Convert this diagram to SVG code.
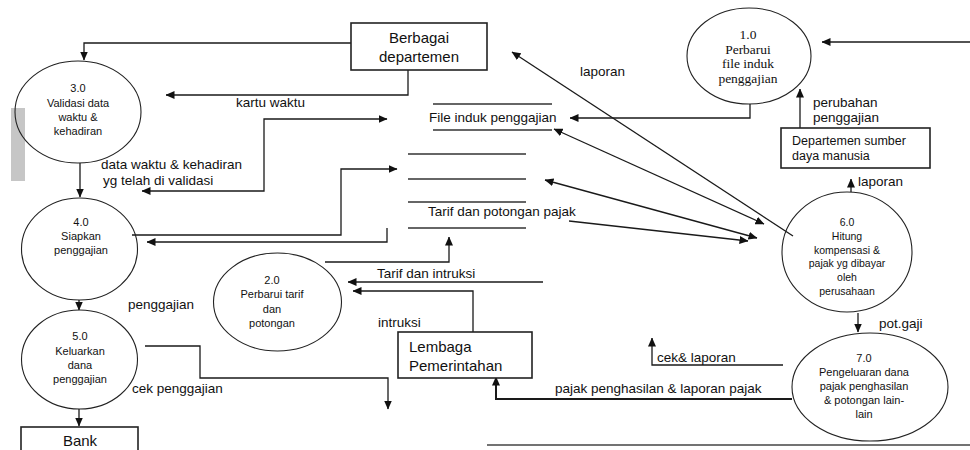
<svg xmlns="http://www.w3.org/2000/svg" width="970" height="450" viewBox="0 0 970 450">
<defs>
<marker id="ah" markerUnits="userSpaceOnUse" markerWidth="9" markerHeight="8" refX="8.5" refY="4" orient="auto-start-reverse">
<path d="M0,0 L9,4 L0,8 z" fill="#111"/>
</marker>
</defs>
<style>
.bg{fill:#fff}
.proc{fill:none;stroke:#222;stroke-width:1.1}
.ent{fill:#fff;stroke:#222;stroke-width:1.6}
.store{stroke:#333;stroke-width:1.3}
.ca{fill:none;stroke:#1a1a1a;stroke-width:1.3;marker-end:url(#ah)}
.cb{fill:none;stroke:#1a1a1a;stroke-width:1.3;marker-end:url(#ah);marker-start:url(#ah)}
text{font-family:"Liberation Sans",Arial,sans-serif;fill:#111}
.lbl{font-size:13.5px}
.pt{font-size:11px;text-anchor:middle}
.pt6{font-size:10.5px;text-anchor:middle}
.ser{font-family:"Liberation Serif","Times New Roman",serif;font-size:13.5px;text-anchor:middle}
.et{font-size:15px;text-anchor:middle}
</style>
<rect class="bg" x="0" y="0" width="970" height="450"/>
<rect x="11" y="108" width="14" height="73" fill="#c6c6c6"/>

<g id="connectors">
<path class="ca" d="M351,43 H84 V60"/>
<path class="ca" d="M408,70 V95 H166"/>
<path class="cb" d="M142,191 H264 V119 H387"/>
<path class="ca" d="M80,163 V197"/>
<path class="ca" d="M132,235 H341 V169 H397"/>
<path class="ca" d="M387,228 V242 H147"/>
<path class="ca" d="M325,262 H449 V237"/>
<path class="ca" d="M543,282 H348"/>
<path class="ca" d="M473,332 V291 H353"/>
<path class="ca" d="M79,300 V310"/>
<path class="ca" d="M145,346 H200 V378 H388 V409"/>
<path class="ca" d="M79,409 V426"/>
<path class="ca" d="M750,104 V118 H570"/>
<path class="ca" d="M970,42 H822"/>
<path class="ca" d="M800,128 V89"/>
<path class="ca" d="M851,192 V179"/>
<path class="ca" d="M793,236 L512,52"/>
<path class="cb" d="M554,129 L764,224"/>
<path class="cb" d="M545,180 L757,238"/>
<path class="ca" d="M569,221 L748,241"/>
<path class="ca" d="M858,313 V332"/>
<path class="ca" d="M783,365 H652 V338"/>
<path class="ca" d="M792,399 H496 V377" style="stroke-width:2"/>
<path d="M487,445 H970" stroke="#444" stroke-width="1.5"/>
</g>

<g id="labels">
<text class="lbl" x="236" y="107">kartu waktu</text>
<text class="lbl" x="580" y="76">laporan</text>
<text class="lbl" x="101" y="169">data waktu &amp; kehadiran</text>
<text class="lbl" x="103" y="185">yg telah di validasi</text>
<text class="lbl" x="128" y="309">penggajian</text>
<text class="lbl" x="377" y="278">Tarif dan intruksi</text>
<text class="lbl" x="378" y="327">intruksi</text>
<text class="lbl" x="132" y="393">cek penggajian</text>
<text class="lbl" x="555" y="393">pajak penghasilan &amp; laporan pajak</text>
<text class="lbl" x="657" y="362">cek&amp; laporan</text>
<text class="lbl" x="879" y="328">pot.gaji</text>
<text class="lbl" x="858" y="186">laporan</text>
<text class="lbl" x="813" y="107">perubahan</text>
<text class="lbl" x="813" y="122">penggajian</text>
</g>

<g id="store-file-induk">
<line class="store" x1="433" y1="104" x2="552" y2="104"/>
<line class="store" x1="433" y1="130" x2="552" y2="130"/>
<text class="lbl" x="429" y="122">File induk penggajian</text>
</g>
<g id="store-unnamed">
<line class="store" x1="408" y1="154" x2="526" y2="154"/>
<line class="store" x1="408" y1="179" x2="526" y2="179"/>
</g>
<g id="store-tarif">
<line class="store" x1="408" y1="202" x2="526" y2="202"/>
<line class="store" x1="408" y1="228" x2="526" y2="228"/>
<text class="lbl" x="428" y="216">Tarif dan potongan pajak</text>
</g>

<g id="ent-berbagai">
<rect class="ent" x="351" y="23" width="136" height="47"/>
<text class="et" x="419" y="43">Berbagai</text>
<text class="et" x="419" y="62">departemen</text>
</g>
<g id="ent-sdm">
<rect class="ent" x="781" y="128" width="149" height="40"/>
<text style="font-size:12.5px" x="792" y="145">Departemen sumber</text>
<text style="font-size:12.5px" x="792" y="160">daya manusia</text>
</g>
<g id="ent-lembaga">
<rect class="ent" x="398" y="332" width="134" height="46"/>
<text style="font-size:15px" x="409" y="352">Lembaga</text>
<text style="font-size:15px" x="409" y="371">Pemerintahan</text>
</g>
<g id="ent-bank">
<rect class="ent" x="21" y="427" width="117" height="40"/>
<text class="et" x="80" y="446">Bank</text>
</g>

<g id="p1">
<ellipse class="proc" cx="749" cy="56" rx="62" ry="48"/>
<text class="ser" x="748" y="39">1.0</text>
<text class="ser" x="748" y="53.5">Perbarui</text>
<text class="ser" x="748" y="68">file induk</text>
<text class="ser" x="748" y="82.5">penggajian</text>
</g>
<g id="p2">
<ellipse class="proc" cx="277.5" cy="302" rx="64" ry="49"/>
<text class="pt" x="272" y="284">2.0</text>
<text class="pt" x="272" y="298">Perbarui tarif</text>
<text class="pt" x="272" y="313">dan</text>
<text class="pt" x="272" y="327">potongan</text>
</g>
<g id="p3">
<ellipse class="proc" cx="78" cy="112" rx="63" ry="51"/>
<text class="pt" x="78" y="92">3.0</text>
<text class="pt" x="78" y="106.5">Validasi data</text>
<text class="pt" x="78" y="120.5">waktu &amp;</text>
<text class="pt" x="78" y="134.5">kehadiran</text>
</g>
<g id="p4">
<ellipse class="proc" cx="79.5" cy="249" rx="58" ry="51"/>
<text class="pt" x="81" y="226">4.0</text>
<text class="pt" x="81" y="240">Siapkan</text>
<text class="pt" x="81" y="254">penggajian</text>
</g>
<g id="p5">
<ellipse class="proc" cx="79.5" cy="359.5" rx="58" ry="49.5"/>
<text class="pt" x="80" y="340">5.0</text>
<text class="pt" x="80" y="355">Keluarkan</text>
<text class="pt" x="80" y="369">dana</text>
<text class="pt" x="80" y="383">penggajian</text>
</g>
<g id="p6">
<ellipse class="proc" cx="847" cy="252" rx="65" ry="60"/>
<text class="pt6" x="847" y="226">6.0</text>
<text class="pt6" x="847" y="240">Hitung</text>
<text class="pt6" x="847" y="254">kompensasi &amp;</text>
<text class="pt6" x="847" y="267">pajak yg dibayar</text>
<text class="pt6" x="847" y="281">oleh</text>
<text class="pt6" x="847" y="295">perusahaan</text>
</g>
<g id="p7">
<ellipse class="proc" cx="870" cy="387" rx="78" ry="54"/>
<text class="pt" x="864" y="362">7.0</text>
<text class="pt" x="864" y="376">Pengeluaran dana</text>
<text class="pt" x="864" y="390">pajak penghasilan</text>
<text class="pt" x="864" y="404">&amp; potongan lain-</text>
<text class="pt" x="864" y="418">lain</text>
</g>
</svg>
